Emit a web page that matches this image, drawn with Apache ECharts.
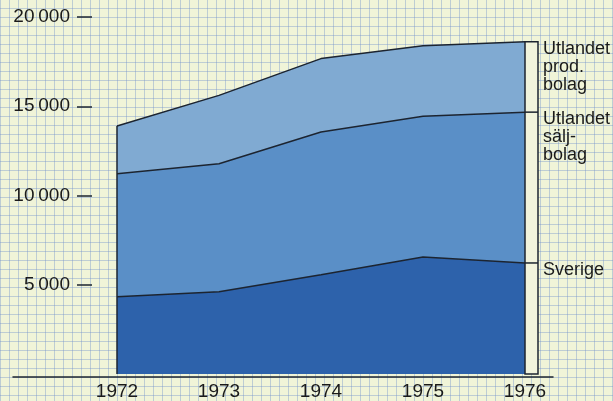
<!DOCTYPE html>
<html>
<head>
<meta charset="utf-8">
<script src="https://cdn.jsdelivr.net/npm/echarts@6/dist/echarts.min.js"></script>
<style>
  html, body { margin: 0; padding: 0; }
  body {
    width: 613px; height: 401px; overflow: hidden;
    background-color: #f0f4d8;
    background-image:
      linear-gradient(to right, rgba(120, 150, 205, 0.42) 1px, transparent 1px),
      linear-gradient(to bottom, rgba(120, 150, 205, 0.42) 1px, transparent 1px);
    background-size: 9px 9px;
    background-position: 0px 8px;
  }
  #chart { width: 613px; height: 401px; }
</style>
</head>
<body>
<div id="chart"></div>
<script>
const years = ['1972', '1973', '1974', '1975', '1976']
const yTicks = [5000, 10000, 15000, 20000]
// stacked layers, bottom to top
const sverige = [4330, 4610, 5560, 6560, 6220]
const saljbolag = [6890, 7170, 8000, 7880, 8450]
const prodbolag = [2670, 3830, 4110, 3950, 3940]
const labels = ['Sverige', 'Utlandet\nsälj-\nbolag', 'Utlandet\nprod.\nbolag']

const INK = '#1c2430'
const FONT = '"Liberation Sans", Arial, sans-serif'

const chart = echarts.init(document.getElementById('chart'))

function layer(name, data, color, label) {
  return {
    name,
    type: 'line',
    stack: 'total',
    data,
    symbol: 'none',
    lineStyle: { color: INK, width: 1.5 },
    areaStyle: { color, opacity: 1 },
    endLabel: {
      show: true,
      formatter: label,
      color: '#1a1a1a',
      fontFamily: FONT,
      fontSize: 18,
      lineHeight: 18,
      align: 'left',
      verticalAlign: 'top',
      offset: [10, -2]
    },
    animation: false,
    z: 2
  }
}

chart.setOption({
  animation: false,
  grid: [
    { left: 117, right: 88, top: 17, bottom: 24 },
    { left: 13, right: 60, top: 17, bottom: 24 }
  ],
  xAxis: [
    {
      type: 'category',
      gridIndex: 0,
      data: years,
      boundaryGap: false,
      axisLine: { show: false },
      axisTick: { show: false },
      axisLabel: { color: '#1a1a1a', fontFamily: FONT, fontSize: 19, margin: 8 }
    },
    {
      type: 'value',
      gridIndex: 1,
      min: 0,
      max: 1,
      axisLine: { show: true, onZero: false, lineStyle: { color: INK, width: 1.5 } },
      axisTick: { show: false },
      axisLabel: { show: false },
      splitLine: { show: false }
    }
  ],
  yAxis: [
    {
      type: 'value',
      gridIndex: 0,
      min: 0,
      max: 20000,
      interval: 5000,
      offset: 25,
      axisLine: { show: false },
      axisTick: { show: true, length: 15, customValues: yTicks, lineStyle: { color: INK, width: 1.5 } },
      splitLine: { show: false },
      axisLabel: {
        color: '#1a1a1a', fontFamily: FONT, fontSize: 19, margin: 22,
        customValues: yTicks,
        formatter: v => String(v).replace(/(\d)(\d{3})$/, '$1\u2009$2')
      }
    },
    { type: 'value', gridIndex: 1, show: false, min: 0, max: 1 }
  ],
  series: [
    layer('Sverige', sverige, '#2d62ab', labels[0]),
    layer('Utlandet sälj-bolag', saljbolag, '#5a8fc7', labels[1]),
    layer('Utlandet prod. bolag', prodbolag, '#80aad2', labels[2])
  ]
})

// edge of the printed area and the blank strip after 1976, placed from the data
const last = years.length - 1
const cum = [sverige, saljbolag, prodbolag].reduce((acc, arr, k) => {
  acc.push(arr.map((v, i) => v + (k ? acc[k - 1][i] : 0)))
  return acc
}, [])
const px = (i, v) => chart.convertToPixel({ gridIndex: 0 }, [i, v])
const left0 = px(0, 0), leftTop = px(0, cum[2][0])
const r0 = px(last, 0), rTop = px(last, cum[2][last])
const rMid = px(last, cum[1][last]), rLow = px(last, cum[0][last])
const stripW = 13
const ink = { stroke: INK, lineWidth: 1.5 }
chart.setOption({
  graphic: [
    { type: 'line', shape: { x1: left0[0], y1: left0[1], x2: leftTop[0], y2: leftTop[1] }, style: ink, z: 10 },
    { type: 'rect', shape: { x: rTop[0], y: rTop[1], width: stripW, height: r0[1] - rTop[1] },
      style: { fill: '#f1f3dc', stroke: INK, lineWidth: 1.5 }, z: 10 },
    { type: 'line', shape: { x1: rMid[0], y1: rMid[1], x2: rMid[0] + stripW, y2: rMid[1] }, style: ink, z: 10 },
    { type: 'line', shape: { x1: rLow[0], y1: rLow[1], x2: rLow[0] + stripW, y2: rLow[1] }, style: ink, z: 10 }
  ]
})
</script>
</body>
</html>
